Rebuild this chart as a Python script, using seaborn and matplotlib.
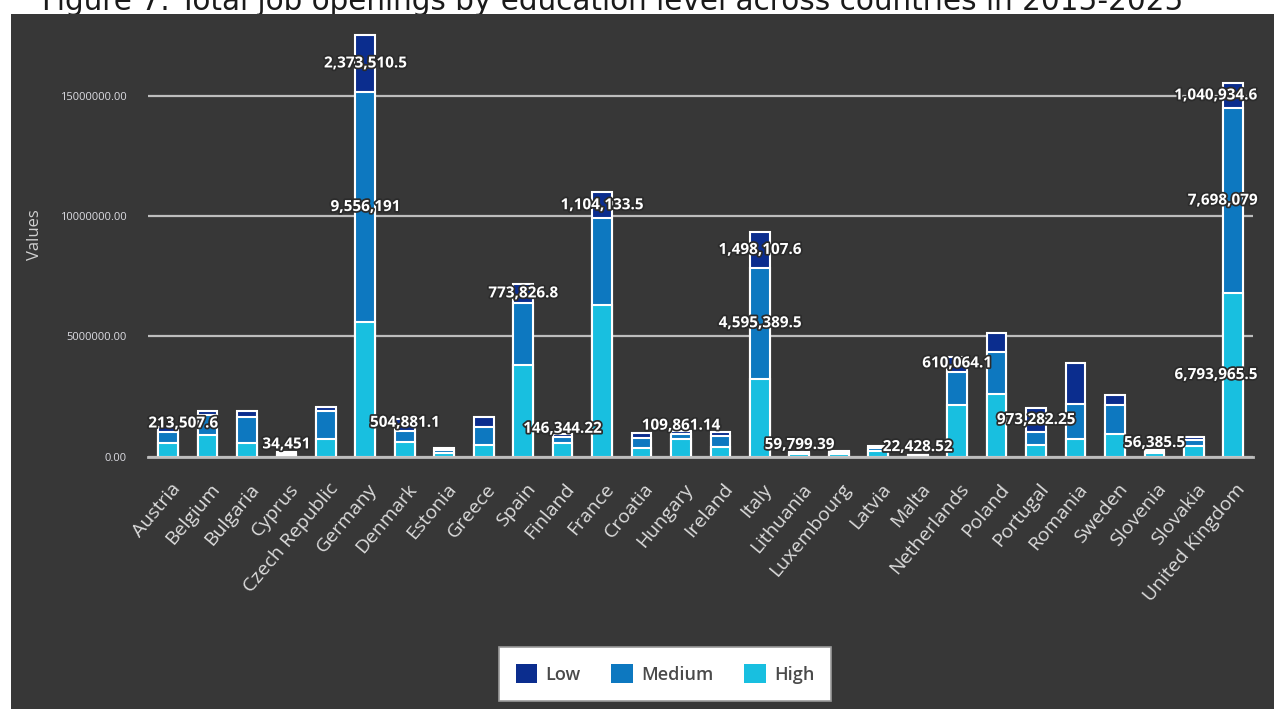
import numpy as np
import pandas as pd
import seaborn as sns
import matplotlib.pyplot as plt
from matplotlib.patches import Rectangle, Patch
from matplotlib import patheffects as pe
from matplotlib import font_manager as fm
from matplotlib.transforms import ScaledTranslation, Affine2D

# ---- data -----------------------------------------------------------------
countries = [
    "Austria", "Belgium", "Bulgaria", "Cyprus", "Czech Republic", "Germany",
    "Denmark", "Estonia", "Greece", "Spain", "Finland", "France", "Croatia",
    "Hungary", "Ireland", "Italy", "Lithuania", "Luxembourg", "Latvia", "Malta",
    "Netherlands", "Poland", "Portugal", "Romania", "Sweden", "Slovenia",
    "Slovakia", "United Kingdom",
]
high = [
    560000, 900000, 560000, 90000, 720000, 5600000,
    620000, 160000, 490000, 3810000, 560000, 6300000, 350000,
    720000, 420000, 3250000, 100000, 110000, 250000, 30000,
    2150000, 2600000, 490000, 720000, 940000, 150000,
    440000, 6793965.5,
]
medium = [
    470000, 830000, 1070000, 70000, 1190000, 9556191,
    440000, 120000, 760000, 2590000, 250000, 3600000, 410000,
    220000, 440000, 4595389.5, 40000, 80000, 130000, 20000,
    1380000, 1760000, 550000, 1470000, 1210000, 70000,
    250000, 7698079,
]
low = [
    213507.6, 180000, 280000, 34451, 170000, 2373510.5,
    504881.1, 70000, 390000, 773826.8, 146344.22, 1104133.5, 210000,
    109861.14, 180000, 1498107.6, 59799.39, 50000, 60000, 22428.52,
    610064.1, 790000, 973282.25, 1690000, 410000, 56385.5,
    120000, 1040934.6,
]
levels = ["Low", "Medium", "High"]
level_colors = {"Low": "#0b2d8e", "Medium": "#0d78c0", "High": "#18bfe0"}
yticks = [0, 5000000, 10000000, 15000000]
labelled = {
    "Low": ["Austria", "Cyprus", "Germany", "Denmark", "Spain", "Finland",
            "France", "Hungary", "Italy", "Lithuania", "Malta", "Netherlands",
            "Portugal", "Slovenia", "United Kingdom"],
    "Medium": ["Germany", "Italy", "United Kingdom"],
    "High": ["United Kingdom"],
}
title = "Figure 7: Total job openings by education level across countries in 2015-2025"

# ---- figure ---------------------------------------------------------------
W, H = 1274, 709
sns.set_theme(style="white")
plt.rcParams["font.family"] = ["Open Sans", "DejaVu Sans"]

names = {f.name for f in fm.fontManager.ttflist}
narrow = "Liberation Sans Narrow" if "Liberation Sans Narrow" in names else "Open Sans"
ytick_size = 10 if narrow == "Liberation Sans Narrow" else 8

panel_col = "#373737"
line_col = "#bdbdbd"

fig = plt.figure(figsize=(W / 100, H / 100), dpi=100, facecolor="white")
fig.add_artist(Rectangle((11 / W, 0), 1 - 11 / W, 1 - 14 / H,
                         transform=fig.transFigure, facecolor=panel_col,
                         edgecolor="none", zorder=-1))
ttl = fig.text(42 / W, 1 - 10 / H, title, ha="left", va="baseline",
               fontsize=18, family="DejaVu Sans", color="#1a1a1a", zorder=-2)

ax_left, ax_right = 148.3, 1253.0
ax_bottom, ax_top = 456.7, 26.0
ax = fig.add_axes([ax_left / W, 1 - ax_bottom / H,
                   (ax_right - ax_left) / W, (ax_bottom - ax_top) / H])
ax.set_facecolor(panel_col)

df = pd.DataFrame({"Country": countries, "High": high, "Medium": medium, "Low": low})
df["Low_top"] = df["High"] + df["Medium"] + df["Low"]
df["Medium_top"] = df["High"] + df["Medium"]
df["High_top"] = df["High"]

# stacked bars drawn as overlapping cumulative layers
for lvl in levels:
    sns.barplot(data=df, x="Country", y=f"{lvl}_top", color=level_colors[lvl],
                saturation=1, width=0.5, errorbar=None, edgecolor="white",
                linewidth=1.5, ax=ax, zorder=3)

n = len(countries)
ax.set_xlim(-0.5, n - 0.5)
ax.set_ylim(0, 17.9e6)
ax.set_xlabel("")
ax.set_ylabel("")

for s in ["top", "left", "right"]:
    ax.spines[s].set_visible(False)
ax.spines["bottom"].set_color(line_col)
ax.spines["bottom"].set_linewidth(2)
ax.spines["bottom"].set_zorder(4)

ax.set_yticks(yticks)
ax.set_yticklabels([f"{v:.2f}" for v in yticks], family=narrow,
                   fontsize=ytick_size, color="#dcdce2")
ax.tick_params(axis="y", length=0, pad=15.5)
ax.yaxis.grid(True, color=line_col, linewidth=1.6)
ax.xaxis.grid(False)
ax.set_axisbelow(True)

ax.set_xticks(range(n))
ax.set_xticklabels(countries, rotation=50, ha="right", va="center",
                   rotation_mode="anchor", fontsize=14, color="#dcdcdc")
ax.tick_params(axis="x", which="major", length=0, pad=21)
ax.set_xticks(np.arange(-0.5, n, 1), minor=True)
ax.tick_params(axis="x", which="minor", length=11.5, width=1.5,
               color=line_col, direction="out")
shift = ScaledTranslation(6.5 / 72, 0, fig.dpi_scale_trans)
for lab in ax.get_xticklabels():
    lab.set_transform(lab.get_transform() + shift)

fig.text(35 / W, 1 - 235 / H, "Values", rotation=90, ha="center", va="center",
         fontsize=12, color="#d0d0d0")

# value labels on segments
def fmt(v):
    return f"{v:,.2f}".rstrip("0").rstrip(".")

texts = []
for lvl, names_l in labelled.items():
    for c in names_l:
        i = countries.index(c)
        row = df.iloc[i]
        top = row[f"{lvl}_top"]
        val = row[lvl]
        bottom = top - val
        y = max((bottom + top) / 2, bottom + 0.35e6)
        t = ax.text(i, y, fmt(val), ha="center", va="center", color="white",
                    fontsize=11, fontweight="bold", zorder=6,
                    path_effects=[pe.withStroke(linewidth=2.5, foreground="#2b2b2b")])
        texts.append(t)

# legend
handles = [Patch(facecolor=level_colors[l], edgecolor="none", label=l) for l in levels]
leg = fig.legend(handles=handles, loc="center", bbox_to_anchor=(665 / W, 1 - 674 / H),
                 ncol=3, frameon=True, fancybox=False, facecolor="white",
                 framealpha=1, edgecolor="#9a9a9a", handlelength=1.2,
                 handleheight=1.2, handletextpad=0.45, columnspacing=1.7,
                 borderpad=0.95, labelcolor="#4a4a4a",
                 prop={"family": "Open Sans", "size": 13, "weight": "semibold"})
leg.get_frame().set_linewidth(1.2)

# fit title width and keep value labels inside the plotting area
fig.canvas.draw()
r = fig.canvas.get_renderer()
tw = ttl.get_window_extent(r).width
ttl.set_fontsize(18 * (1188 - 42) / tw)
axbb = ax.get_window_extent(r)
for t in texts:
    bb = t.get_window_extent(r)
    if bb.x0 < axbb.x0:
        t.set_transform(t.get_transform() + Affine2D().translate(axbb.x0 - bb.x0, 0))
    elif bb.x1 > axbb.x1 + 4:
        t.set_transform(t.get_transform() + Affine2D().translate(axbb.x1 + 4 - bb.x1, 0))

fig.savefig("out.png", dpi=100, facecolor="white")
